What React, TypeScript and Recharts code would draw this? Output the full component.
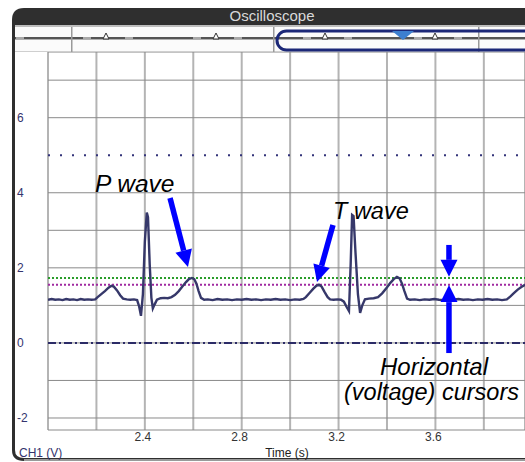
import { CartesianGrid, Line, LineChart, ReferenceLine, XAxis, YAxis } from "recharts";

// CH1 trace (time in s, voltage in V)
const timeS = [
  2.0, 2.015, 2.03, 2.045, 2.06, 2.075, 2.09, 2.105, 2.12, 2.135, 2.15, 2.165, 2.18, 2.195,
  2.205, 2.22, 2.235, 2.25, 2.262, 2.272, 2.285, 2.298, 2.31, 2.325, 2.34, 2.355, 2.368,
  2.376, 2.384, 2.392, 2.4, 2.408, 2.413, 2.42, 2.427, 2.433, 2.44, 2.45, 2.465, 2.48, 2.495,
  2.51, 2.525, 2.54, 2.555, 2.57, 2.582, 2.594, 2.604, 2.613, 2.622, 2.632, 2.645,
  2.66, 2.68, 2.7, 2.72, 2.74, 2.76, 2.78, 2.8, 2.82, 2.84, 2.86, 2.88, 2.9, 2.92, 2.94,
  2.96, 2.98, 3.0, 3.02, 3.04, 3.055,
  3.065, 3.08, 3.095, 3.108, 3.119, 3.13, 3.142, 3.155, 3.165, 3.18, 3.195, 3.21, 3.222,
  3.234, 3.243, 3.25, 3.256, 3.262, 3.27, 3.28, 3.289, 3.298, 3.309, 3.325, 3.345, 3.363,
  3.38, 3.398, 3.414, 3.428, 3.441, 3.452, 3.462, 3.472, 3.483, 3.495,
  3.515, 3.535, 3.555, 3.575, 3.595, 3.615, 3.635, 3.655, 3.675, 3.695, 3.715, 3.735,
  3.755, 3.775, 3.795, 3.815, 3.835, 3.855, 3.875, 3.895, 3.91, 3.925, 3.94, 3.955, 3.97,
];
const ch1Volts = [
  1.15, 1.17, 1.15, 1.16, 1.14, 1.17, 1.15, 1.16, 1.14, 1.17, 1.15, 1.16, 1.15, 1.16,
  1.22, 1.3, 1.38, 1.47, 1.52, 1.5, 1.4, 1.27, 1.18, 1.16, 1.15, 1.16, 1.14,
  0.98, 0.72, 1.3, 2.7, 3.47, 3.35, 2.1, 1.2, 0.92, 1.02, 1.15, 1.19, 1.2, 1.19,
  1.22, 1.28, 1.38, 1.5, 1.62, 1.7, 1.73, 1.7, 1.58, 1.38, 1.2, 1.15,
  1.16, 1.14, 1.17, 1.15, 1.16, 1.14, 1.16, 1.15, 1.17, 1.15, 1.16, 1.14, 1.16, 1.15, 1.17,
  1.15, 1.16, 1.14, 1.16, 1.15, 1.17,
  1.22, 1.33, 1.44, 1.52, 1.55, 1.5, 1.36, 1.22, 1.16, 1.15, 1.16, 1.15, 1.1,
  0.95, 0.85, 2.1, 3.41, 3.38, 2.4, 1.3, 0.8, 1.0, 1.16, 1.18, 1.19, 1.22,
  1.32, 1.46, 1.6, 1.7, 1.76, 1.72, 1.58, 1.38, 1.18, 1.15,
  1.16, 1.14, 1.16, 1.15, 1.17, 1.15, 1.14, 1.16, 1.15, 1.17, 1.15, 1.16,
  1.14, 1.16, 1.15, 1.17, 1.15, 1.16, 1.14, 1.16, 1.24, 1.33, 1.42, 1.49, 1.55,
];

const xGridTicks = [2.2, 2.4, 2.6, 2.8, 3.0, 3.2, 3.4, 3.6, 3.8];
const xLabelTicks = [2.4, 2.8, 3.2, 3.6];
const yGridTicks = [-2, -1, 0, 1, 2, 3, 4, 6, 7];
const yLabelTicks = [-2, 0, 2, 4, 6];

const cursorHigh = 1.73;
const cursorLow = 1.55;
const triggerLevel = 5;
const groundLevel = 0;

// annotation arrows in data space: [t, V] tail -> tip
const arrows = [
  { from: [2.504, 3.86], to: [2.578, 2.02] },
  { from: [3.177, 3.14], to: [3.111, 1.62] },
  { from: [3.656, 2.61], to: [3.656, 1.76] },
  { from: [3.656, -0.27], to: [3.656, 1.54] },
];

const data = timeS.map((t, i) => ({ t, v: ch1Volts[i] }));

const FONT = "'Liberation Sans', Arial, sans-serif";

const ArrowShape = (props: any) => {
  const { x1, y1, x2, y2 } = props;
  const dx = x2 - x1;
  const dy = y2 - y1;
  const len = Math.hypot(dx, dy) || 1;
  const ux = dx / len;
  const uy = dy / len;
  const head = 17;
  const half = 8.5;
  const bx = x2 - ux * head;
  const by = y2 - uy * head;
  const px = -uy;
  const py = ux;
  return (
    <g>
      <line x1={x1} y1={y1} x2={bx} y2={by} stroke="#0000ff" strokeWidth={5.5} />
      <polygon
        points={`${x2},${y2} ${bx + px * half},${by + py * half} ${bx - px * half},${by - py * half}`}
        fill="#0000ff"
      />
    </g>
  );
};

const YTick = ({ y, payload }: any) => {
  if (!yLabelTicks.includes(payload.value)) return <g />;
  return (
    <text x={17} y={y} dy={4} fill="#34346e" fontSize={12} fontFamily={FONT}>
      {payload.value}
    </text>
  );
};

const XTick = ({ x, y, payload }: any) => {
  const show = xLabelTicks.some((v) => Math.abs(v - payload.value) < 1e-6);
  if (!show) return <g />;
  return (
    <text x={x - 2} y={y} dy={11} textAnchor="middle" fill="#333" fontSize={12} fontFamily={FONT}>
      {Number(payload.value).toFixed(1)}
    </text>
  );
};

// little marker row in the overview strip
const stripDashes = [20, 87, 129, 197, 238, 307, 348, 418, 458];
const stripTriangles = [106, 216, 325, 435];

export default function App() {
  return (
    <div style={{ position: "absolute", left: 0, top: 0, width: 525, height: 462, background: "#fff" }}>
      <LineChart
        width={525}
        height={462}
        data={data}
        margin={{ top: 52, right: 0, bottom: 0, left: 0 }}
      >
        <CartesianGrid horizontal={false} stroke="#b4b4b4" strokeWidth={2} />
        <CartesianGrid vertical={false} stroke="#8a8a8a" strokeWidth={1} />
        <XAxis
          dataKey="t"
          type="number"
          domain={[2.0, 3.97]}
          allowDataOverflow
          ticks={xGridTicks}
          tick={<XTick />}
          tickSize={0}
          tickMargin={0}
          axisLine={false}
          tickLine={false}
          height={32}
          interval={0}
        />
        <YAxis
          type="number"
          domain={[-2.32, 7.75]}
          allowDataOverflow
          ticks={yGridTicks}
          tick={<YTick />}
          axisLine={false}
          tickLine={false}
          width={48}
          interval={0}
        />
        <ReferenceLine y={triggerLevel} stroke="#33337a" strokeWidth={2} strokeDasharray="2 10" />
        <ReferenceLine y={groundLevel} stroke="#2b2b66" strokeWidth={2} strokeDasharray="8 3 2 3" />
        <ReferenceLine y={cursorHigh} stroke="#2a9d2a" strokeWidth={2} strokeDasharray="2 2" />
        <ReferenceLine y={cursorLow} stroke="#a02aa0" strokeWidth={2} strokeDasharray="2 2" />
        <Line
          type="linear"
          dataKey="v"
          stroke="#36386a"
          strokeWidth={2.4}
          dot={false}
          isAnimationActive={false}
        />
        {arrows.map((a, i) => (
          <ReferenceLine
            key={i}
            segment={[
              { x: a.from[0], y: a.from[1] },
              { x: a.to[0], y: a.to[1] },
            ]}
            ifOverflow="visible"
            shape={ArrowShape}
          />
        ))}
      </LineChart>

      <svg
        width={525}
        height={462}
        style={{ position: "absolute", left: 0, top: 0, pointerEvents: "none" }}
      >
        {/* title bar */}
        <path d="M12 26 L12 20 Q12 8 24 8 L525 8 L525 26 Z" fill="#2f2f2f" />
        <text x={272} y={21} textAnchor="middle" fill="#d9d9d9" fontSize={15} fontFamily={FONT}>
          Oscilloscope
        </text>
        {/* overview strip */}
        <rect x={15} y={25} width={510} height={2} fill="#bdbdbd" />
        <rect x={15} y={27} width={510} height={25} fill="#fbfbfb" />
        <rect x={15} y={51} width={510} height={1} fill="#cfcfcf" />
        <rect x={15} y={37} width={510} height={2} fill="#555" />
        <rect x={15} y={39} width={510} height={1} fill="#b0b0b0" />
        {[71, 273, 478].map((x) => (
          <rect key={x} x={x} y={27} width={1.5} height={25} fill="#9a9a9a" />
        ))}
        {stripDashes.map((x) => (
          <rect key={x} x={x - 4} y={37} width={8} height={2} fill="#a8a8a8" />
        ))}
        {stripTriangles.map((x) => (
          <polygon key={x} points={`${x - 3},39 ${x + 3},39 ${x},33`} fill="#fff" stroke="#333" strokeWidth={1} />
        ))}
        <rect x={277} y={31} width={262} height={19} rx={9.5} fill="none" stroke="#1c2878" strokeWidth={3} />
        <polygon points="392,31 414,31 403,40" fill="#3d7fcf" />
        {/* window frame */}
        <path d="M13.5 20 L13.5 450 Q13.5 459.5 24 459.5 L525 459.5" fill="none" stroke="#2f2f2f" strokeWidth={3} />
        <rect x={24} y={459} width={501} height={2} fill="#9a9a9a" />
        {/* axis captions */}
        <text x={19} y={457} fill="#34346e" fontSize={12} fontFamily={FONT}>
          CH1 (V)
        </text>
        <text x={287} y={457} textAnchor="middle" fill="#222" fontSize={12} fontFamily={FONT}>
          Time (s)
        </text>
        {/* annotations */}
        <g fontFamily={FONT} fontStyle="italic" fill="#000">
          <text x={95} y={192} fontSize={24.5}>P wave</text>
          <text x={333} y={219} fontSize={23.5}>T wave</text>
          <text x={380} y={375} fontSize={24}>Horizontal</text>
          <text x={344} y={400} fontSize={23.5}>(voltage) cursors</text>
        </g>
      </svg>
    </div>
  );
}
